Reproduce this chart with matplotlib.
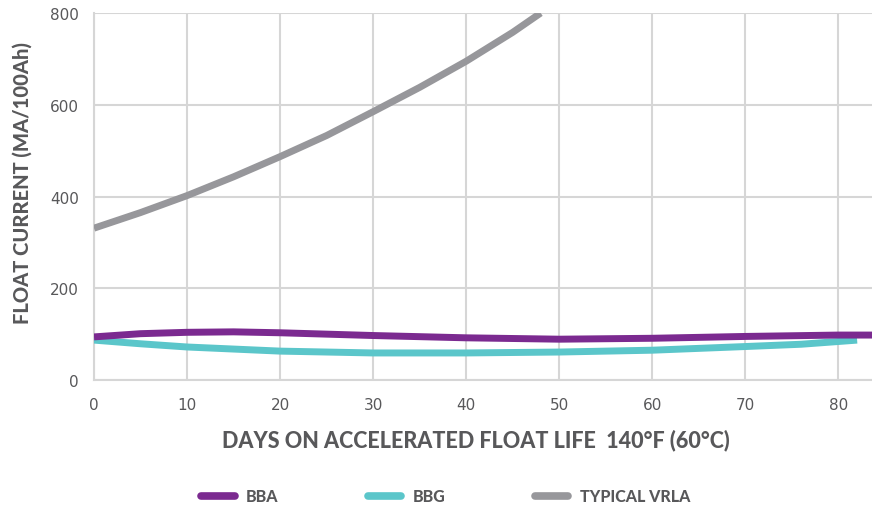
import matplotlib.pyplot as plt
import numpy as np

# values
days_bba = [0, 5, 10, 15, 20, 30, 40, 50, 60, 70, 80, 84]
bba = [94, 101, 104, 105, 103, 97, 92, 89, 91, 95, 98, 98]

days_bbg = [0, 5, 10, 20, 30, 40, 50, 60, 70, 76, 80, 82]
bbg = [87, 79, 72, 63, 59, 59, 61, 65, 73, 78, 84, 87]

days_vrla = [0, 5, 10, 15, 20, 25, 30, 35, 40, 45, 48]
vrla = [331, 365, 402, 443, 487, 533, 585, 638, 695, 758, 800]

xticks = [0, 10, 20, 30, 40, 50, 60, 70, 80]
yticks = [0, 200, 400, 600, 800]

c_bba = "#7b2a90"
c_bbg = "#5bc6ca"
c_vrla = "#97979b"
c_text = "#58585a"
c_grid = "#d6d6d6"

fig = plt.figure(figsize=(8.72, 5.10), dpi=100)
ax = fig.add_axes([0.1078, 0.2529, 0.8922, 0.7196])

ax.plot(days_vrla, vrla, c=c_vrla, lw=5, solid_capstyle="butt", label="TYPICAL VRLA", zorder=3)
ax.plot(days_bbg, bbg, c=c_bbg, lw=5, solid_capstyle="butt", label="BBG", zorder=3)
ax.plot(days_bba, bba, c=c_bba, lw=5, solid_capstyle="butt", label="BBA", zorder=4)

ax.set_xlim(0, 83.6)
ax.set_ylim(0, 800)
ax.set_xticks(xticks)
ax.set_yticks(yticks)
ax.grid(color=c_grid, lw=1.5)
ax.set_axisbelow(True)
for s in ["top", "right"]:
    ax.spines[s].set_visible(False)
for s in ["left", "bottom"]:
    ax.spines[s].set_color(c_grid)
    ax.spines[s].set_linewidth(1.5)
ax.tick_params(length=0, pad=12, colors=c_text, labelsize=11)
for lab in ax.get_xticklabels() + ax.get_yticklabels():
    lab.set_family(["Liberation Sans Narrow", "DejaVu Sans Condensed", "DejaVu Sans"])
ax.tick_params(axis="y", pad=11)

lab_font = {"family": "Lato", "weight": 900, "color": c_text}
ax.set_ylabel("FLOAT CURRENT (MA/100Ah)", fontsize=14.5, **lab_font)
ax.yaxis.set_label_coords(-0.0925, 0.54)
ax.set_xlabel("DAYS ON ACCELERATED FLOAT LIFE  140°F (60°C)", fontsize=15.5, **lab_font)
ax.xaxis.set_label_coords(0.491, -0.163)
ax.xaxis.label.set_va("center")
ax.yaxis.label.set_va("center")

h, l = ax.get_legend_handles_labels()
order = [2, 1, 0]
leg = fig.legend([h[i] for i in order], [l[i] for i in order], loc="center",
                 bbox_to_anchor=(0.511, 0.025), ncol=3, frameon=False,
                 handlelength=2.1, columnspacing=5.6, handletextpad=0.7,
                 prop={"family": "Lato", "weight": 900, "size": 11.5})
for t in leg.get_texts():
    t.set_color(c_text)
for ln in leg.get_lines():
    ln.set_solid_capstyle("round")
    ln.set_linewidth(5.5)

plt.savefig("out.png", dpi=100)
